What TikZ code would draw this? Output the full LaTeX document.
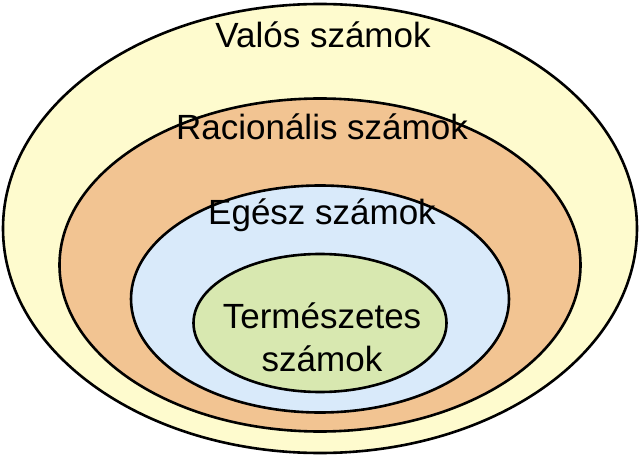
\documentclass[tikz,border=0pt]{standalone}
\usepackage{fontspec}
\setmainfont{Liberation Sans}
\usetikzlibrary{shapes.geometric,positioning}
\definecolor{valos}{RGB}{254,251,206}
\definecolor{racio}{RGB}{242,196,146}
\definecolor{egesz}{RGB}{217,234,250}
\definecolor{termesz}{RGB}{216,232,176}
\tikzset{
halmaz/.style={
  ellipse,
  draw=black,
  line width=2.6pt,
  inner sep=0pt,
  fill=#1
  },
felirat/.style={
  font=\fontsize{35}{43}\selectfont,
  align=center,
  inner sep=0pt
  }
}

\begin{document}
\begin{tikzpicture}[x=1pt,y=-1pt]
\useasboundingbox (0,0) rectangle (640,457);

\node[halmaz=valos,minimum width=634pt,minimum height=449pt] (valos) at (320,228.5) {};
\node[halmaz=racio,minimum width=521pt,minimum height=333pt] (racio) at (320,265) {};
\node[halmaz=egesz,minimum width=378pt,minimum height=227pt] (egesz) at (320,299) {};
\node[halmaz=termesz,minimum width=253pt,minimum height=138pt] (termesz) at (320,323) {};

\node[felirat] (lvalos) at (323,35) {Valós számok};
\node[felirat] (lracio) at (322,127) {Racionális számok};
\node[felirat] (legesz) at (322,215) {Egész számok};
\node[felirat] (ltermesz) at (322,337) {Természetes\\számok};

\end{tikzpicture}
\end{document}
